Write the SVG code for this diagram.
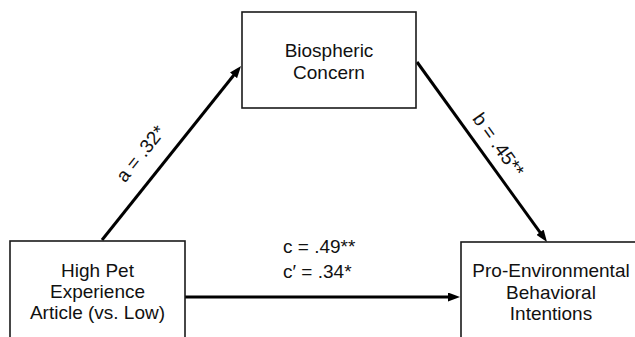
<svg xmlns="http://www.w3.org/2000/svg" width="635" height="337" viewBox="0 0 635 337">
  <style>
    .box { fill: #fff; stroke: #1a1a1a; stroke-width: 1.6; }
    .lbl { font-family: "Liberation Sans", Arial, sans-serif; font-size: 19px; fill: #111; text-anchor: middle; }
    .path { font-family: "Liberation Sans", Arial, sans-serif; font-size: 19px; fill: #111; }
    .conn { stroke: #000; stroke-width: 3; fill: none; marker-end: url(#arr); }
  </style>
  <defs>
    <marker id="arr" viewBox="0 0 12 9" markerWidth="12" markerHeight="9" refX="6" refY="4.5" orient="auto" markerUnits="userSpaceOnUse">
      <path d="M0,0 L12,4.5 L0,9 z" fill="#000"/>
    </marker>
  </defs>
  <rect width="635" height="337" fill="#fff"/>
  <g id="connectors">
    <line class="conn" x1="102" y1="240" x2="237.3" y2="70.7"/>
    <line class="conn" x1="417" y1="62" x2="543.5" y2="237.1"/>
    <line class="conn" x1="185" y1="297" x2="454" y2="297"/>
    <text class="path" text-anchor="middle" transform="translate(141,154) rotate(-51.4)" y="6">a = .32*</text>
    <text class="path" text-anchor="middle" transform="translate(498,145) rotate(54.2)" y="6">b = .45**</text>
    <text class="path" x="283" y="253">c = .49**</text>
    <text class="path" x="283" y="278">c′ = .34*</text>
  </g>
  <g id="node-high-pet">
    <rect class="box" x="10" y="241" width="175" height="110"/>
    <text class="lbl" x="97.5" y="277">High Pet</text>
    <text class="lbl" x="97.5" y="298">Experience</text>
    <text class="lbl" x="97.5" y="319">Article (vs. Low)</text>
  </g>
  <g id="node-biospheric">
    <rect class="box" x="242" y="12" width="174" height="96"/>
    <text class="lbl" x="329" y="57">Biospheric</text>
    <text class="lbl" x="329" y="78.5">Concern</text>
  </g>
  <g id="node-pro-env">
    <rect class="box" x="461" y="242" width="200" height="110"/>
    <text class="lbl" x="551" y="277">Pro-Environmental</text>
    <text class="lbl" x="551" y="298.5">Behavioral</text>
    <text class="lbl" x="551" y="320">Intentions</text>
  </g>
</svg>
